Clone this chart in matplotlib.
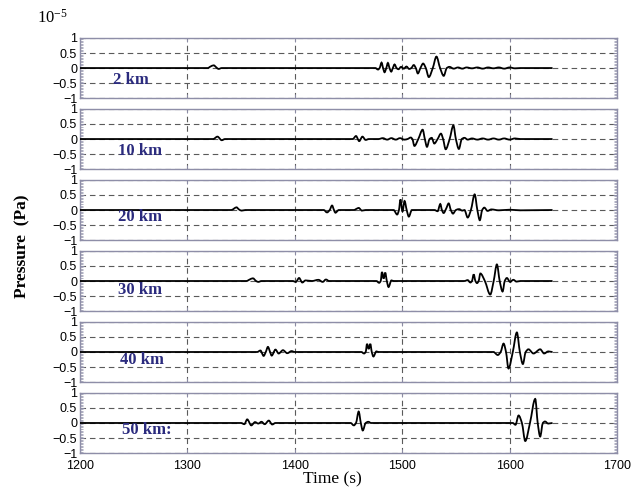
import matplotlib
matplotlib.use("Agg")
import matplotlib.pyplot as plt
from matplotlib.ticker import MultipleLocator
from matplotlib.path import Path
from matplotlib.patches import PathPatch

# ---- data (pressure in units of 1e-5 Pa) ----
distances = ["2 km", "10 km", "20 km", "30 km", "40 km", "50 km:"]

t_2km = [1200, 1319, 1321.5, 1324.5, 1327, 1329, 1332,
         1475, 1477.5, 1479, 1480.8, 1482.2, 1483.6, 1485.2, 1486.7, 1488.2, 1489.8, 1491.3, 1492.9,
         1494.8, 1496.5, 1499, 1501.5, 1504, 1506.5, 1508.5, 1510.8, 1512.7, 1514.6, 1517, 1519.5,
         1522, 1524.8, 1528.5, 1531.9, 1535.3, 1538.7, 1541.5, 1544, 1548, 1552, 1556, 1560,
         1565, 1570, 1575, 1580, 1585, 1590, 1595, 1600, 1605, 1610, 1640]
p_2km = [0, 0, 0.05, 0.09, 0.02, -0.03, 0,
         0, -0.05, 0, 0.18, 0, -0.14, 0, 0.17, 0, -0.12, 0, 0.12,
         0, -0.04, 0.04, -0.02, 0.05, -0.03, 0, 0.1, 0, -0.18, 0, 0.15,
         0, -0.3, 0, 0.38, 0, -0.26, 0, 0.04, -0.02, 0.02, -0.02, 0.02,
         -0.01, 0.02, -0.02, 0.02, -0.01, 0.02, -0.02, 0.02, -0.01, 0, 0]

t_10km = [1200, 1324, 1328, 1332, 1335,
          1454, 1457, 1460, 1463, 1466, 1469,
          1478, 1482, 1486, 1490, 1494, 1498, 1502, 1505, 1508, 1509.5, 1511.4, 1515,
          1519.1, 1521.1, 1523.1, 1525.5, 1527.5, 1529.9, 1533, 1536.1, 1538.1, 1540.5,
          1544.2, 1547.7, 1550, 1552.8, 1555.5, 1558, 1561, 1565, 1570, 1575, 1580, 1585,
          1590, 1595, 1600, 1605, 1610, 1640]
p_10km = [0, 0, 0.08, -0.04, 0,
          0, 0.1, -0.07, 0.08, -0.03, 0,
          0, 0.03, -0.02, 0.03, -0.02, 0.03, -0.02, 0, 0.05, 0, -0.23, 0,
          0.31, 0, -0.26, 0, 0.04, -0.15, 0, 0.18, 0, -0.34,
          0, 0.45, 0, -0.33, 0, 0.04, -0.02, 0.02, -0.02, 0.02, -0.02, 0.02,
          -0.02, 0.02, -0.02, 0.02, 0, 0]

t_20km = [1200, 1341, 1343.5, 1345.7, 1348, 1350.5, 1354,
          1427, 1430, 1432.5, 1434.7, 1436.5, 1437.8, 1441,
          1455, 1458, 1459.5, 1462.5, 1466,
          1492, 1495.3, 1497, 1498.4, 1500.3, 1502.2, 1504.2, 1506.2, 1509,
          1530, 1533, 1535.5, 1537, 1538.6, 1541, 1543.3, 1545.3, 1547.3, 1550, 1553, 1556,
          1558, 1561, 1564, 1567.5, 1570, 1572.3, 1574.5, 1576.5, 1579.5, 1583,
          1590, 1600, 1610, 1640]
p_20km = [0, 0, 0.05, 0.09, 0.02, -0.02, 0,
          0, -0.08, 0, 0.15, 0, -0.09, 0,
          0, 0.05, 0.07, -0.02, 0,
          0, -0.15, 0, 0.35, -0.05, 0.3, 0, -0.22, 0,
          0, -0.04, 0.2, 0, -0.1, 0.05, 0.22, 0, -0.12, 0, 0.03, -0.02,
          0, -0.25, 0, 0.52, 0, -0.34, 0, 0.08, -0.03, 0.02,
          -0.01, 0.01, -0.01, 0]

t_30km = [1200, 1355, 1358, 1361, 1364, 1366, 1369,
          1398, 1401, 1404, 1407, 1410, 1416, 1422, 1426, 1429, 1432,
          1476, 1478.5, 1480, 1481.2, 1482.7, 1484.2, 1485.7, 1487.3, 1490, 1492,
          1558, 1561, 1563.5, 1565, 1566.6, 1568.2, 1569.7, 1571.2, 1572.8, 1577, 1582,
          1585.2, 1588.2, 1590.8, 1593.5, 1595.5, 1597.5, 1600.5, 1603.5, 1606.5, 1610, 1640]
p_30km = [0, 0, 0.05, 0.09, 0.0, -0.03, 0,
          0, -0.03, 0.1, -0.05, 0.02, 0, 0.04, -0.03, 0.05, 0,
          0, -0.06, 0, 0.3, 0.08, 0.28, 0, -0.2, 0.02, 0,
          0, 0.03, -0.05, 0, 0.22, 0, -0.07, 0, 0.25, 0, -0.45,
          0, 0.55, 0, -0.35, 0, 0.1, -0.03, 0.04, -0.02, 0, 0]

t_40km = [1200, 1365, 1368, 1371, 1373, 1375, 1377, 1378.5, 1382, 1385, 1389, 1393, 1397, 1400,
          1462, 1464.5, 1466, 1467.3, 1468.8, 1470.3, 1471.7, 1473.2, 1476, 1478,
          1585, 1589, 1591.7, 1594.4, 1596.7, 1599, 1603, 1606.8, 1609.6, 1612.4, 1615,
          1617.6, 1622.3, 1628.5, 1632.2, 1636, 1640]
p_40km = [0, 0, 0.05, -0.13, 0, 0.17, 0, -0.12, 0.08, -0.05, 0.06, -0.04, 0.03, 0,
          0, -0.05, 0, 0.27, 0.1, 0.27, 0, -0.15, 0.02, 0,
          0, -0.1, 0, 0.28, 0, -0.55, 0, 0.65, 0, -0.4, 0,
          0.09, -0.05, 0.09, -0.05, 0.02, 0]

t_50km = [1200, 1350, 1353, 1355.7, 1359.5, 1363, 1366, 1369, 1372, 1375.8, 1379, 1382,
          1452, 1455, 1457, 1459.5, 1461.5, 1463.3, 1466, 1468.5, 1471,
          1603, 1605.5, 1608.4, 1611.5, 1614.6, 1619, 1623.9, 1626.2, 1628.5, 1631, 1633,
          1636, 1640]
p_50km = [0, 0, -0.04, 0.12, -0.08, 0.03, -0.02, 0.04, -0.04, 0.08, -0.05, 0,
          0, -0.08, 0, 0.38, 0, -0.25, 0, 0.04, 0,
          0, -0.06, 0.25, 0, -0.6, 0, 0.8, 0, -0.45, 0, 0.05,
          -0.02, 0]

series = [(t_2km, p_2km), (t_10km, p_10km), (t_20km, p_20km),
          (t_30km, p_30km), (t_40km, p_40km), (t_50km, p_50km)]
label_pos = [(1231, -0.4), (1235, -0.4), (1235, -0.24), (1235, -0.3), (1237, -0.27), (1239, -0.24)]

xticks = [1200, 1300, 1400, 1500, 1600, 1700]
yticks = [-1, -0.5, 0, 0.5, 1]
ytick_labels = ["\u22121", "\u22120.5", "0", "0.5", "1"]


def smooth_path(t, p):
    """Smooth (shape-preserving cubic) path through the read-off points."""
    n = len(t)
    h = [t[i + 1] - t[i] for i in range(n - 1)]
    d = [(p[i + 1] - p[i]) / h[i] for i in range(n - 1)]
    m = [0.0] * n
    for i in range(1, n - 1):
        if d[i - 1] * d[i] > 0:
            w1 = 2 * h[i] + h[i - 1]
            w2 = h[i] + 2 * h[i - 1]
            m[i] = (w1 + w2) / (w1 / d[i - 1] + w2 / d[i])
    verts = [(t[0], p[0])]
    codes = [Path.MOVETO]
    for i in range(n - 1):
        verts += [(t[i] + h[i] / 3, p[i] + m[i] * h[i] / 3),
                  (t[i + 1] - h[i] / 3, p[i + 1] - m[i + 1] * h[i] / 3),
                  (t[i + 1], p[i + 1])]
        codes += [Path.CURVE4] * 3
    return Path(verts, codes)


# ---- figure ----
serif = ["Liberation Serif", "DejaVu Serif"]
sans = ["Liberation Sans", "DejaVu Sans"]
plt.rcParams["font.family"] = sans

fig, axes = plt.subplots(6, 1, figsize=(6.4, 4.93), dpi=100, sharex=True)
fig.subplots_adjust(left=0.125, right=0.964, top=0.923, bottom=0.081, hspace=0.18)

frame_col = "#8e8ea8"
grid_col = "#5a5a5a"
label_col = "#2b2b7e"

for ax, (t, p), name, (lx, ly) in zip(axes, series, distances, label_pos):
    ax.set_xlim(1200, 1700)
    ax.set_ylim(-1, 1)
    ax.set_xticks(xticks)
    ax.set_yticks(yticks)
    ax.set_yticklabels(ytick_labels)
    ax.yaxis.set_minor_locator(MultipleLocator(0.05))
    ax.grid(True, which="major", linestyle=(0, (5, 3.5)), color=grid_col, linewidth=0.8)
    ax.add_patch(PathPatch(smooth_path(t, p), facecolor="none", edgecolor="black",
                           linewidth=1.3, zorder=3, transform=ax.transData))
    for s in ax.spines.values():
        s.set_color(frame_col)
        s.set_linewidth(1.0)
    ax.tick_params(axis="both", which="major", direction="in", length=3, width=0.7,
                   color=frame_col, top=True, right=True, labelsize=9, pad=2)
    ax.tick_params(axis="x", which="major", pad=5)
    ax.tick_params(axis="y", which="minor", direction="in", length=2, width=0.5,
                   color=frame_col, left=True, right=True)
    ax.text(lx, ly, name, color=label_col, fontsize=12, family=serif,
            fontweight="bold", va="center", ha="left", zorder=4)

for ax in axes[:-1]:
    ax.tick_params(labelbottom=False)

fig.text(0.52, 0.028, "Time (s)", family=serif, fontsize=12.5, va="center", ha="center")
fig.text(0.035, 0.5, "Pressure  (Pa)", rotation=90, family=serif, fontsize=12.5,
         fontweight="bold", va="center", ha="center")
fig.text(0.058, 0.965, r"$\mathregular{10^{-5}}$", family=serif, fontsize=12,
         va="center", ha="left")

fig.savefig("out.png", dpi=100)
